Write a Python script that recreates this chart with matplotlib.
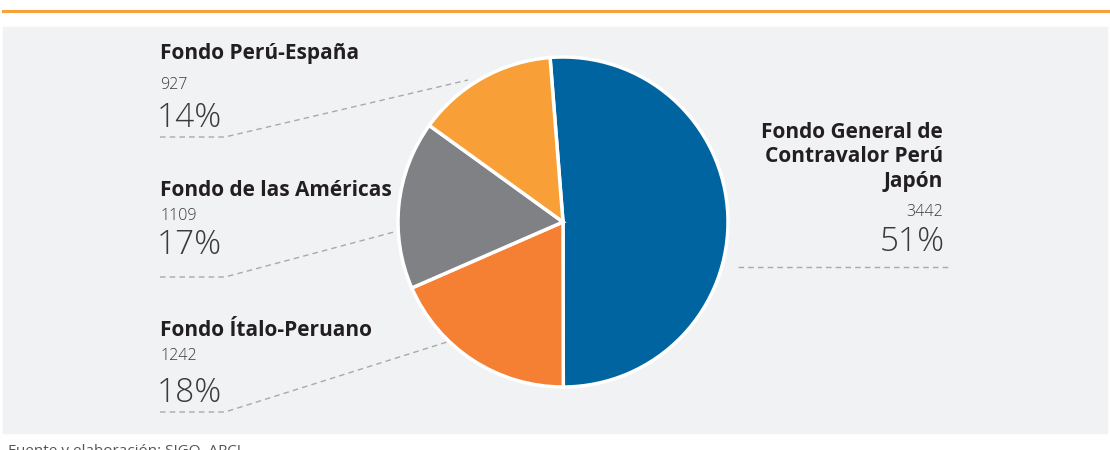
import matplotlib.pyplot as plt
from matplotlib.patches import Rectangle

# Datos
fondos = ['Fondo General de\nContravalor Perú\nJapón', 'Fondo Ítalo-Peruano',
          'Fondo de las Américas', 'Fondo Perú-España']
montos = [3442, 1242, 1109, 927]
porcentajes = ['51%', '18%', '17%', '14%']
colores = ['#0064A1', '#F58033', '#808184', '#F8A037']

W, H = 1110, 450
fig = plt.figure(figsize=(W / 100, H / 100), dpi=100)
ax = fig.add_axes([0, 0, 1, 1])
plt.rcParams['font.family'] = ['Open Sans', 'DejaVu Sans']


def Y(y):
    # coordenadas de imagen -> eje
    return H - y


# Fondo y linea superior
ax.add_patch(Rectangle((3, Y(433)), 1104, 406, color='#F1F2F4', zorder=0))
ax.plot([3, W], [Y(11), Y(11)], color='#F9A23B', lw=2.2, zorder=1)

# Pie
ax.pie(montos, colors=colores, startangle=94.5, counterclock=False,
       center=(563, Y(222)), radius=165,
       wedgeprops=dict(edgecolor='white', linewidth=2.5))
ax.set_xlim(0, W)
ax.set_ylim(0, H)
ax.set_aspect('auto')
ax.axis('off')

dark = '#231F20'
grey = '#3A3A3A'
line_c = '#A7A9AC'

# Etiquetas izquierda: (titulo_y, monto_y, pct_y, linea_y, fin_linea)
izq = {1: (330, 356, 393, 412, (447, 342)),
       2: (190, 216, 245, 277, (394, 232)),
       3: (54, 85, 118, 137, (468, 80))}
for i, (ty, my, py, ly, fin) in izq.items():
    ax.text(160, Y(ty), fondos[i], fontsize=15, fontweight='bold', color=dark,
            ha='left', va='center')
    ax.text(160, Y(my), str(montos[i]), fontsize=11.5, fontweight='light',
            color=grey, ha='left', va='center')
    ax.text(157, Y(py), porcentajes[i], fontsize=24, fontweight='light',
            color=grey, ha='left', va='center')
    ax.plot([160, 225, fin[0]], [Y(ly), Y(ly), Y(fin[1])], color=line_c,
            lw=1, ls=(0, (4, 3)))

# Etiqueta derecha
ax.text(943, Y(157), fondos[0], fontsize=15, fontweight='bold', color=dark,
        ha='right', va='center', linespacing=1.2)
ax.text(943, Y(212), str(montos[0]), fontsize=11.5, fontweight='light',
        color=grey, ha='right', va='center')
ax.text(945, Y(242), porcentajes[0], fontsize=24, fontweight='light',
        color=grey, ha='right', va='center')
ax.plot([738, 948], [Y(267), Y(267)], color=line_c, lw=1, ls=(0, (4, 3)))

# Fuente
ax.text(8, Y(455), 'Fuente y elaboración: SIGO, APCI', fontsize=11,
        color='#555555', ha='left', va='baseline')

fig.savefig('out.png', dpi=100)
